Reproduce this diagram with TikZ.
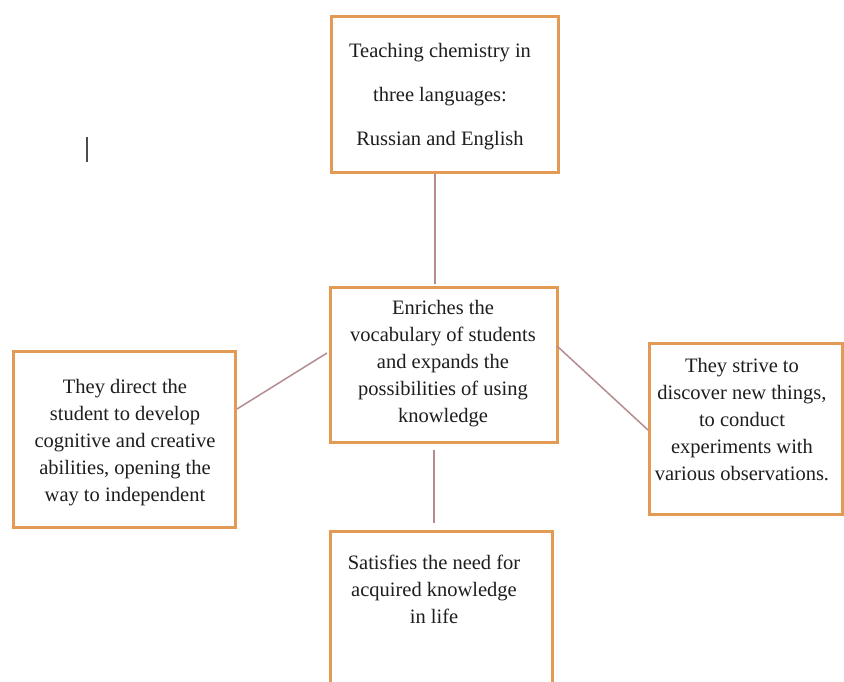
\documentclass[tikz,border=0pt]{standalone}
\usepackage{fontspec}
\setmainfont{Liberation Serif}
\definecolor{boxorange}{HTML}{E39A55}
\definecolor{linkcol}{HTML}{B48C90}
\definecolor{txt}{HTML}{1E1E1E}
\begin{document}
\begin{tikzpicture}[x=1pt,y=-1pt,
  box/.style={draw=boxorange,line width=3pt,fill=white},
  lbl/.style={text=txt,align=center,inner sep=0pt,font=\fontsize{20.5}{27}\selectfont},
  link/.style={draw=linkcol,line width=1.5pt}]
\useasboundingbox (0,0) rectangle (844,682);
\clip (0,0) rectangle (844,682);
% boxes
\draw[box] (331,17) rectangle (558,173);
\draw[box] (330,287) rectangle (557,442);
\draw[box] (13,351) rectangle (235,527);
\draw[box] (649,343) rectangle (842,514);
\draw[box] (330,531) rectangle (552,700);
% texts
\node[lbl,font=\fontsize{20.5}{44}\selectfont] (top) at (440,97) {Teaching chemistry in\\three languages:\\Russian and English};
\node[lbl] (mid) at (443,364) {Enriches the\\vocabulary of students\\and expands the\\possibilities of using\\knowledge};
\node[lbl] (left) at (125,443) {They direct the\\student to develop\\cognitive and creative\\abilities, opening the\\way to independent};
\node[lbl] (right) at (742,420) {They strive to\\discover new things,\\to conduct\\experiments with\\various observations.};
\node[lbl] (bottom) at (434,589.5) {Satisfies the need for\\acquired knowledge\\in life};
% connector end points
\coordinate (c1a) at (435,174);
\coordinate (c1b) at (435,284);
\coordinate (c2a) at (434,450);
\coordinate (c2b) at (434,523);
\coordinate (c3a) at (237,409);
\coordinate (c3b) at (327,353);
\coordinate (c4a) at (557,346);
\coordinate (c4b) at (648,430);
\draw[link] (c1a) -- (c1b);
\draw[link] (c2a) -- (c2b);
\draw[link] (c3a) -- (c3b);
\draw[link] (c4a) -- (c4b);
% stray cursor mark
\coordinate (cur1) at (87,137);
\coordinate (cur2) at (87,162);
\draw[line width=2pt,color=black!70] (cur1) -- (cur2);
\end{tikzpicture}
\end{document}
